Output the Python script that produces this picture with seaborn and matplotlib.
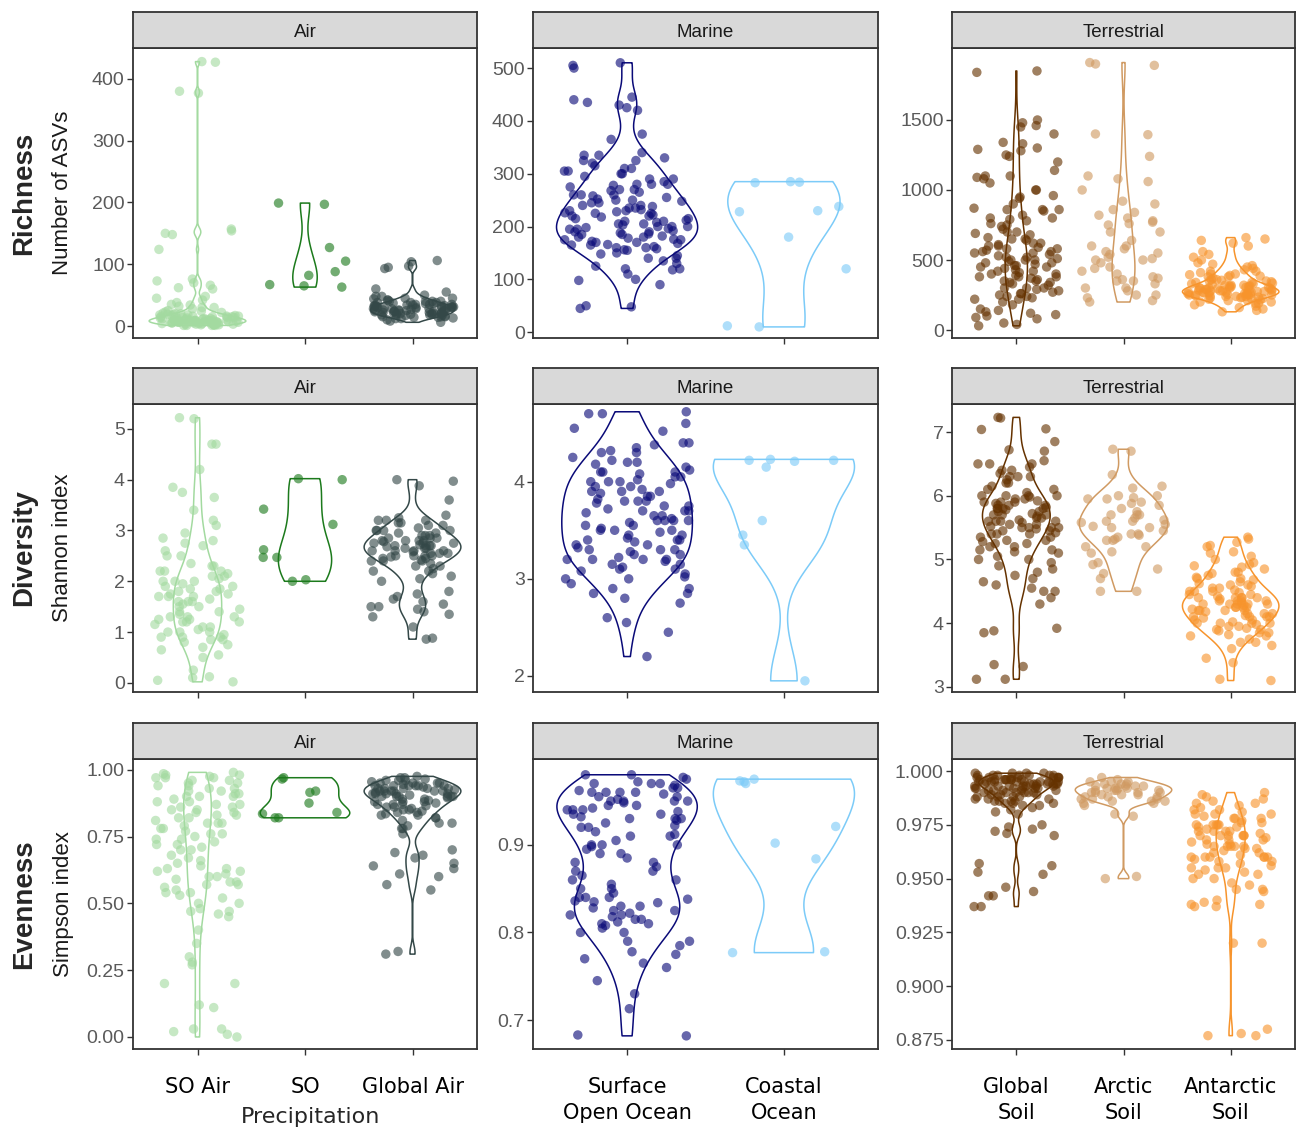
import numpy as np
import pandas as pd
import seaborn as sns
import matplotlib.pyplot as plt

# ---- data ----
# Richness (number of ASVs)
rich_so_air = [428, 427, 380, 377, 157, 154, 150, 148, 124, 76, 73, 70, 66, 62, 60, 48, 45, 42, 38,
               34, 32, 30, 28, 25, 24, 22, 20, 19, 18, 17, 16, 15, 15, 14, 13, 12, 12, 11, 10, 10, 9,
               9, 8, 8, 8, 7, 7, 6, 6, 5, 5, 5, 4, 4, 3, 3, 3, 2, 2, 2, 1, 1, 1, 12, 14, 16, 18, 20, 6, 9,
               3, 5, 7, 9, 11, 13, 15, 17, 19, 21, 23, 4, 6, 8, 10, 2, 1, 12, 14, 16, 6, 8, 10, 5, 7,
               3, 9, 11, 30, 35]
rich_so = [199, 197, 127, 105, 88, 82, 67, 65, 63]
rich_global_air = [106, 104, 97, 95, 93, 60, 55, 50, 48, 45, 44, 42, 40, 40, 38, 37, 36, 35, 34, 33,
                   32, 32, 31, 30, 30, 29, 28, 28, 27, 26, 25, 25, 24, 23, 22, 22, 21, 20, 20, 19, 18,
                   18, 17, 16, 15, 15, 14, 13, 12, 10, 8, 6, 30, 35, 27, 24, 20, 33, 38, 42,
                   15, 18, 20, 22, 25, 28, 30, 32, 35, 38, 40, 45, 20, 25, 30, 18, 22, 28, 33, 36,
                   12, 14, 26, 31, 34, 40, 48, 19, 23, 27]
rich_open_ocean = [510, 505, 500, 445, 440, 435, 430, 425, 420, 375, 365, 340, 335, 335, 330, 325,
                   320, 315, 310, 305, 305, 300, 295, 290, 285, 280, 280, 278, 275, 270, 268, 265,
                   260, 258, 255, 252, 250, 248, 245, 240, 238, 235, 232, 230, 228, 226, 225, 222,
                   220, 218, 215, 212, 210, 208, 205, 203, 200, 198, 196, 195, 192, 190, 188, 186,
                   185, 182, 180, 178, 176, 175, 172, 170, 168, 166, 165, 162, 160, 158, 156, 155,
                   150, 148, 145, 140, 135, 130, 125, 120, 118, 110, 100, 98, 90, 50, 48, 45,
                   260, 240, 230, 220, 210, 200, 190, 180, 170, 160, 250, 270, 290, 300, 310, 225,
                   215, 205, 195, 185, 175, 165, 245, 235, 325, 280, 120, 140, 260, 200]
rich_coastal = [285, 284, 283, 238, 230, 228, 180, 120, 12, 10]
rich_global_soil = [1850, 1840, 1500, 1480, 1460, 1450, 1400, 1340, 1330, 1290, 1280, 1240, 1200,
                    1140, 1100, 1090, 1080, 1050, 1000, 950, 940, 900, 870, 860, 860, 850, 820, 800,
                    800, 790, 780, 760, 740, 720, 700, 690, 680, 660, 650, 640, 620, 610, 600, 590,
                    580, 570, 560, 550, 540, 530, 520, 510, 500, 500, 490, 480, 470, 460, 450, 440,
                    430, 420, 410, 400, 390, 380, 370, 360, 350, 340, 330, 320, 300, 290, 280, 270,
                    260, 250, 240, 230, 220, 200, 180, 150, 140, 130, 120, 110, 100, 90, 80, 50, 40, 30,
                    600, 550, 500, 450, 400, 350, 300, 650, 700, 750, 580, 520, 480, 420, 380, 340,
                    260, 220, 860, 960, 1000, 1100, 1250, 1300, 560, 620, 460, 380, 300, 240]
rich_arctic_soil = [1910, 1900, 1890, 1400, 1395, 1240, 1100, 1080, 1060, 920, 900, 860, 840, 820,
                    780, 770, 760, 750, 700, 640, 600, 580, 560, 540, 520, 510, 500, 480, 440, 420,
                    400, 380, 370, 360, 350, 330, 300, 280, 250, 230, 210, 200,
                    600, 700, 800, 450, 500, 550, 350, 300, 250, 1000]
rich_antarctic_soil = [660, 650, 640, 620, 600, 560, 540, 520, 500, 480, 470, 460, 450, 440, 430,
                       420, 410, 400, 395, 390, 385, 380, 370, 360, 355, 350, 345, 340, 335, 330,
                       325, 320, 315, 310, 305, 300, 300, 295, 290, 290, 285, 280, 280, 275, 270,
                       270, 265, 260, 260, 255, 250, 250, 245, 240, 240, 235, 230, 225, 220, 215,
                       210, 200, 190, 180, 170, 160, 150, 140, 130, 300, 280, 260, 320, 250, 270,
                       300, 280, 260, 240, 320, 340, 360, 290, 270, 250, 230, 210, 310, 330, 350,
                       380, 400, 420, 200, 190, 275, 285, 295, 305, 315, 265, 255, 245, 235, 225]

# Diversity (Shannon index)
shan_so_air = [5.22, 5.2, 4.7, 4.7, 4.2, 3.85, 3.75, 3.65, 3.4, 3.1, 3.2, 2.95, 2.85, 2.8, 2.75, 2.7,
               2.6, 2.5, 2.35, 2.3, 2.2, 2.2, 2.15, 2.1, 2.05, 2.0, 2.0, 1.95, 1.9, 1.85, 1.85, 1.8,
               1.75, 1.7, 1.7, 1.65, 1.6, 1.55, 1.5, 1.45, 1.4, 1.35, 1.3, 1.3, 1.25, 1.2, 1.2, 1.15,
               1.1, 1.05, 1.0, 1.0, 0.95, 0.9, 0.9, 0.85, 0.8, 0.75, 0.7, 0.65, 0.55, 0.5, 0.25, 0.12,
               0.1, 0.05, 0.02, 1.5, 1.6, 1.7, 1.8, 1.9, 2.0, 2.1, 1.2, 1.3, 1.4, 1.0, 1.1, 0.9, 2.2,
               2.3, 2.5, 1.6, 1.75, 1.25, 0.85]
shan_so = [4.02, 4.0, 3.42, 3.12, 2.62, 2.47, 2.47, 2.03, 2.0]
shan_global_air = [4.0, 3.97, 3.88, 3.6, 3.3, 3.25, 3.2, 3.2, 3.15, 3.1, 3.05, 3.0, 3.0, 2.95, 2.9,
                   2.9, 2.85, 2.85, 2.8, 2.8, 2.78, 2.75, 2.75, 2.72, 2.7, 2.7, 2.68, 2.65, 2.65, 2.6,
                   2.6, 2.58, 2.55, 2.55, 2.5, 2.5, 2.48, 2.45, 2.42, 2.4, 2.4, 2.35, 2.3, 2.25, 2.2,
                   2.15, 2.1, 2.05, 2.0, 1.8, 1.75, 1.65, 1.6, 1.55, 1.5, 1.45, 1.4, 1.35, 1.3, 1.1,
                   0.88, 0.86, 2.6, 2.7, 2.8, 2.9, 3.0, 3.1, 2.5, 2.4, 2.3, 2.2, 2.65, 2.75, 2.85,
                   2.95, 2.55, 2.45, 3.15, 3.2, 1.5, 1.7, 2.7, 2.8, 2.6, 3.0, 2.5]
shan_open_ocean = [4.72, 4.7, 4.7, 4.6, 4.55, 4.52, 4.4, 4.38, 4.35, 4.32, 4.3, 4.25, 4.22, 4.2, 4.18,
                   4.15, 4.12, 4.1, 4.08, 4.05, 4.02, 4.0, 3.98, 3.95, 3.92, 3.9, 3.88, 3.85, 3.82,
                   3.8, 3.78, 3.75, 3.72, 3.7, 3.68, 3.65, 3.62, 3.6, 3.58, 3.55, 3.52, 3.5, 3.48,
                   3.45, 3.42, 3.4, 3.38, 3.35, 3.32, 3.3, 3.28, 3.25, 3.22, 3.2, 3.18, 3.15, 3.12,
                   3.1, 3.08, 3.05, 3.02, 3.0, 2.95, 2.9, 2.85, 2.8, 2.75, 2.6, 2.55, 2.45, 2.2, 4.1,
                   3.9, 3.7, 3.5, 3.3, 3.2, 3.6, 4.0, 3.4, 3.5, 3.6, 3.7, 3.8, 3.9, 4.0, 4.1, 4.2,
                   3.4, 3.3, 3.2, 3.1, 3.0, 3.55, 3.65, 3.75, 3.85, 3.95, 4.05, 3.25, 3.15, 3.35,
                   3.45, 2.85, 4.3, 4.4, 2.9, 3.6, 3.8, 3.2]
shan_coastal = [4.23, 4.22, 4.22, 4.21, 4.15, 3.6, 3.45, 3.35, 1.95]
shan_global_soil = [7.23, 7.22, 7.05, 7.04, 6.85, 6.72, 6.7, 6.55, 6.5, 6.5, 6.45, 6.4, 6.35, 6.3,
                    6.3, 6.25, 6.2, 6.15, 6.1, 6.05, 6.0, 6.0, 5.98, 5.95, 5.92, 5.9, 5.88, 5.85,
                    5.85, 5.82, 5.8, 5.8, 5.78, 5.75, 5.72, 5.7, 5.68, 5.65, 5.62, 5.6, 5.6, 5.58,
                    5.55, 5.52, 5.5, 5.5, 5.48, 5.45, 5.42, 5.4, 5.4, 5.35, 5.3, 5.28, 5.25, 5.2, 5.2,
                    5.15, 5.12, 5.1, 5.05, 5.0, 4.95, 4.9, 4.85, 4.75, 4.7, 4.65, 4.6, 4.55, 4.5,
                    4.5, 4.4, 4.3, 3.92, 3.88, 3.85, 3.35, 3.32, 3.12, 3.12, 5.9, 5.8, 5.7, 5.6,
                    5.5, 5.4, 5.3, 6.0, 6.1, 6.2, 6.3, 5.85, 5.75, 5.65, 5.55, 5.45, 5.35, 5.25, 5.15,
                    6.4, 6.5, 5.0, 4.8, 5.95, 5.9, 5.8, 5.6, 5.5, 6.0, 5.7]
shan_arctic_soil = [6.73, 6.7, 6.33, 6.15, 6.12, 6.0, 5.97, 5.95, 5.95, 5.88, 5.85, 5.75, 5.7, 5.7,
                    5.65, 5.62, 5.6, 5.58, 5.55, 5.52, 5.5, 5.45, 5.4, 5.38, 5.35, 5.32, 5.3, 5.2,
                    5.12, 5.1, 4.95, 4.92, 4.85, 4.78, 4.5, 4.5, 5.6, 5.5, 5.7, 5.4, 5.8, 5.3, 6.0,
                    5.9, 5.2, 4.7]
shan_antarctic_soil = [5.35, 5.32, 5.27, 5.22, 5.2, 5.12, 5.1, 5.05, 4.95, 4.92, 4.88, 4.85, 4.8,
                       4.78, 4.75, 4.72, 4.7, 4.68, 4.65, 4.62, 4.6, 4.58, 4.55, 4.52, 4.5, 4.48,
                       4.45, 4.42, 4.4, 4.4, 4.38, 4.35, 4.32, 4.3, 4.3, 4.28, 4.25, 4.22, 4.2, 4.2,
                       4.18, 4.15, 4.12, 4.1, 4.1, 4.08, 4.05, 4.02, 4.0, 4.0, 3.98, 3.95, 3.92, 3.9,
                       3.88, 3.85, 3.82, 3.8, 3.75, 3.7, 3.65, 3.6, 3.45, 3.38, 3.12, 3.1, 4.3, 4.35,
                       4.25, 4.4, 4.15, 4.3, 4.2, 4.1, 4.0, 4.4, 4.5, 4.6, 4.35, 4.25, 4.15, 4.05,
                       3.95, 4.45, 4.55, 3.9, 3.85, 4.7, 4.8, 4.3, 4.2, 4.1, 4.0, 4.5, 3.8, 4.4, 4.9,
                       5.0, 3.7, 4.25, 4.35]

# Evenness (Simpson index)
simp_so_air = [0.99, 0.985, 0.98, 0.975, 0.97, 0.97, 0.96, 0.95, 0.94, 0.93, 0.92, 0.91, 0.9, 0.9,
               0.89, 0.88, 0.87, 0.86, 0.85, 0.85, 0.84, 0.83, 0.82, 0.81, 0.8, 0.8, 0.79, 0.78,
               0.77, 0.76, 0.75, 0.74, 0.73, 0.72, 0.71, 0.7, 0.68, 0.67, 0.65, 0.64, 0.63, 0.62,
               0.61, 0.6, 0.59, 0.58, 0.57, 0.56, 0.55, 0.54, 0.53, 0.52, 0.5, 0.48, 0.47, 0.46,
               0.45, 0.4, 0.35, 0.3, 0.28, 0.27, 0.2, 0.2, 0.12, 0.11, 0.03, 0.03, 0.02, 0.01, 0.0,
               0.98, 0.96, 0.94, 0.92, 0.9, 0.88, 0.86, 0.84, 0.82, 0.8, 0.78, 0.76, 0.74, 0.72,
               0.7, 0.66, 0.62, 0.58, 0.54, 0.5, 0.95, 0.93, 0.87, 0.83, 0.63, 0.6, 0.57, 0.47,
               0.97, 0.91]
simp_so = [0.97, 0.965, 0.92, 0.915, 0.875, 0.84, 0.835, 0.82, 0.82]
simp_global_air = [0.975, 0.97, 0.965, 0.96, 0.955, 0.95, 0.95, 0.945, 0.94, 0.94, 0.935, 0.93,
                   0.93, 0.925, 0.92, 0.92, 0.915, 0.91, 0.91, 0.905, 0.9, 0.9, 0.895, 0.89, 0.885,
                   0.88, 0.875, 0.87, 0.865, 0.86, 0.855, 0.85, 0.845, 0.84, 0.835, 0.83, 0.82,
                   0.81, 0.8, 0.79, 0.78, 0.76, 0.7, 0.69, 0.68, 0.67, 0.65, 0.64, 0.63, 0.61, 0.6,
                   0.57, 0.55, 0.32, 0.31, 0.93, 0.92, 0.91, 0.94, 0.9, 0.95, 0.94, 0.93, 0.92,
                   0.91, 0.9, 0.96, 0.97, 0.89, 0.88, 0.87, 0.86, 0.85, 0.84, 0.83, 0.92, 0.93,
                   0.94, 0.91, 0.9, 0.95, 0.96, 0.82, 0.8, 0.78, 0.87, 0.88, 0.9, 0.92, 0.94]
simp_open_ocean = [0.98, 0.98, 0.977, 0.975, 0.972, 0.97, 0.968, 0.965, 0.962, 0.96, 0.958, 0.955,
                   0.952, 0.95, 0.948, 0.945, 0.942, 0.94, 0.938, 0.935, 0.932, 0.93, 0.928, 0.925,
                   0.922, 0.92, 0.915, 0.912, 0.91, 0.905, 0.9, 0.898, 0.895, 0.89, 0.885, 0.88,
                   0.875, 0.87, 0.865, 0.86, 0.855, 0.85, 0.845, 0.84, 0.84, 0.838, 0.836, 0.834,
                   0.83, 0.828, 0.825, 0.822, 0.82, 0.818, 0.815, 0.812, 0.81, 0.808, 0.805, 0.8,
                   0.79, 0.785, 0.778, 0.775, 0.77, 0.765, 0.76, 0.745, 0.73, 0.713, 0.683, 0.682,
                   0.95, 0.96, 0.94, 0.93, 0.96, 0.95, 0.94, 0.93, 0.92, 0.91, 0.97, 0.83, 0.84,
                   0.82, 0.81, 0.85, 0.86, 0.87, 0.88, 0.89, 0.9, 0.955, 0.945, 0.935, 0.965, 0.835,
                   0.825, 0.815, 0.95, 0.96, 0.97, 0.79, 0.8, 0.9]
simp_coastal = [0.975, 0.973, 0.972, 0.97, 0.921, 0.902, 0.884, 0.778, 0.777]
simp_global_soil = [0.999, 0.999, 0.998, 0.998, 0.998, 0.997, 0.997, 0.997, 0.997, 0.996, 0.996,
                    0.996, 0.996, 0.995, 0.995, 0.995, 0.995, 0.995, 0.994, 0.994, 0.994, 0.994,
                    0.993, 0.993, 0.993, 0.993, 0.992, 0.992, 0.992, 0.991, 0.991, 0.991, 0.99,
                    0.99, 0.99, 0.989, 0.989, 0.988, 0.988, 0.987, 0.987, 0.986, 0.986, 0.985,
                    0.985, 0.984, 0.983, 0.982, 0.981, 0.98, 0.975, 0.974, 0.973, 0.972, 0.971,
                    0.97, 0.957, 0.956, 0.953, 0.952, 0.946, 0.944, 0.942, 0.942, 0.937, 0.937,
                    0.996, 0.997, 0.998, 0.995, 0.994, 0.993, 0.999, 0.998, 0.997, 0.996, 0.995,
                    0.994, 0.993, 0.992, 0.991, 0.99, 0.999, 0.998, 0.997, 0.996, 0.995, 0.994,
                    0.993, 0.992, 0.991, 0.99, 0.989, 0.988, 0.987, 0.986, 0.985, 0.997, 0.996,
                    0.995, 0.994, 0.998, 0.984, 0.986, 0.988, 0.99, 0.992]
simp_arctic_soil = [0.997, 0.996, 0.995, 0.995, 0.994, 0.994, 0.993, 0.993, 0.993, 0.992, 0.992,
                    0.992, 0.991, 0.991, 0.991, 0.99, 0.99, 0.99, 0.989, 0.989, 0.988, 0.988, 0.987,
                    0.987, 0.986, 0.986, 0.985, 0.985, 0.984, 0.98, 0.979, 0.951, 0.95, 0.993,
                    0.992, 0.991, 0.99, 0.989, 0.988, 0.994, 0.995, 0.987, 0.986]
simp_antarctic_soil = [0.99, 0.989, 0.988, 0.987, 0.986, 0.985, 0.984, 0.983, 0.982, 0.981, 0.98,
                       0.979, 0.978, 0.977, 0.976, 0.975, 0.975, 0.974, 0.973, 0.972, 0.972, 0.971,
                       0.97, 0.97, 0.969, 0.968, 0.967, 0.966, 0.965, 0.965, 0.964, 0.963, 0.962,
                       0.961, 0.96, 0.96, 0.959, 0.958, 0.957, 0.956, 0.955, 0.954, 0.953, 0.952,
                       0.95, 0.948, 0.947, 0.945, 0.944, 0.939, 0.938, 0.937, 0.937, 0.92, 0.92,
                       0.88, 0.878, 0.877, 0.877, 0.972, 0.968, 0.975, 0.965, 0.97, 0.96, 0.978,
                       0.975, 0.97, 0.965, 0.96, 0.955, 0.98, 0.985, 0.972, 0.968, 0.962, 0.958,
                       0.952, 0.976, 0.974, 0.966, 0.964, 0.978, 0.982, 0.95, 0.945, 0.97, 0.96,
                       0.975, 0.965, 0.955, 0.98, 0.97, 0.96, 0.94, 0.938]

habitats = ["Air", "Marine", "Terrestrial"]
groups = [["SO Air", "SO", "Global Air"],
          ["Surface Open Ocean", "Coastal Ocean"],
          ["Global Soil", "Arctic Soil", "Antarctic Soil"]]
group_labels = [["SO Air", "SO", "Global Air"],
                ["Surface\nOpen Ocean", "Coastal\nOcean"],
                ["Global\nSoil", "Arctic\nSoil", "Antarctic\nSoil"]]
metrics = ["Richness", "Diversity", "Evenness"]
metric_units = ["Number of ASVs", "Shannon index", "Simpson index"]

values = {
    "Richness": [rich_so_air, rich_so, rich_global_air, rich_open_ocean, rich_coastal,
                 rich_global_soil, rich_arctic_soil, rich_antarctic_soil],
    "Diversity": [shan_so_air, shan_so, shan_global_air, shan_open_ocean, shan_coastal,
                  shan_global_soil, shan_arctic_soil, shan_antarctic_soil],
    "Evenness": [simp_so_air, simp_so, simp_global_air, simp_open_ocean, simp_coastal,
                 simp_global_soil, simp_arctic_soil, simp_antarctic_soil],
}

palette = {"SO Air": "#a3daa0", "SO": "#1c7a1c", "Global Air": "#344848",
           "Surface Open Ocean": "#0a0a78", "Coastal Ocean": "#7ccbf8",
           "Global Soil": "#653200", "Arctic Soil": "#d09a62", "Antarctic Soil": "#f7942c"}

# y axis limits / ticks for each panel (row, col)
ylims = [[(-19.4, 450), (-11, 538), (-57, 2014)],
         [(-0.18, 5.49), (1.835, 4.80), (2.92, 7.44)],
         [(-0.045, 1.04), (0.667, 0.998), (0.8708, 1.0056)]]
yticks = [[[0, 100, 200, 300, 400], [0, 100, 200, 300, 400, 500], [0, 500, 1000, 1500]],
          [[0, 1, 2, 3, 4, 5], [2, 3, 4], [3, 4, 5, 6, 7]],
          [[0, 0.25, 0.5, 0.75, 1.0], [0.7, 0.8, 0.9], [0.875, 0.9, 0.925, 0.95, 0.975, 1.0]]]
yfmt = [["{:.0f}"] * 3, ["{:.0f}"] * 3, ["{:.2f}", "{:.1f}", "{:.3f}"]]

rows = []
flat_groups = [g for gs in groups for g in gs]
for m in metrics:
    for g, vals in zip(flat_groups, values[m]):
        for v in vals:
            rows.append((m, g, v))
df = pd.DataFrame(rows, columns=["metric", "group", "value"])


def nrd0(kde):
    # R's default bandwidth rule, as used by ggplot's violins
    x = kde.dataset[0]
    sd = x.std(ddof=1)
    iqr = np.subtract(*np.percentile(x, [75, 25]))
    lo = min(sd, iqr / 1.34) if iqr > 0 else sd
    return 0.9 * lo * len(x) ** -0.2 / sd


sns.set_style("white")
plt.rcParams['font.family'] = ['Liberation Sans', 'DejaVu Sans']
np.random.seed(3)

W, H = 1296, 1129
fig = plt.figure(figsize=(W / 100, H / 100), dpi=100)


def box(l, t, r, b):
    return [l / W, 1 - b / H, (r - l) / W, (b - t) / H]


col_px = [(133, 477), (533, 878), (952, 1295)]
row_px = [(48, 338), (404, 692), (759, 1049)]
edge = "#333333"

for i, m in enumerate(metrics):
    t, b = row_px[i]
    for j, hab in enumerate(habitats):
        l, r = col_px[j]
        ax = fig.add_axes(box(l, t, r, b))
        sub = df[(df.metric == m) & (df.group.isin(groups[j]))]
        sns.stripplot(data=sub, x="group", y="value", hue="group", order=groups[j],
                      hue_order=groups[j], palette=palette, jitter=0.4, size=6.8,
                      alpha=0.62, linewidth=0, legend=False, ax=ax, zorder=1)
        sns.violinplot(data=sub, x="group", y="value", hue="group", order=groups[j],
                       hue_order=groups[j], palette=palette, fill=False, inner=None,
                       cut=0, width=0.9, density_norm="area", common_norm=True,
                       bw_method=nrd0, gridsize=400, linewidth=1.1, dodge=False,
                       legend=False, ax=ax)
        ax.set_xlim(-0.6, len(groups[j]) - 0.4)
        ax.set_ylim(*ylims[i][j])
        ax.set_yticks(yticks[i][j])
        ax.set_yticklabels([yfmt[i][j].format(v) for v in yticks[i][j]])
        ax.set_xticks(range(len(groups[j])))
        if i == 2:
            ax.set_xticklabels(group_labels[j], fontsize=15, color="black",
                               family=["DejaVu Sans"], linespacing=1.4)
        else:
            ax.set_xticklabels([])
        ax.set_xlabel("")
        ax.set_ylabel("")
        ax.tick_params(axis="both", direction="out", length=4, width=1, color=edge,
                       bottom=True, left=True)
        ax.tick_params(axis="y", labelsize=14, labelcolor="#5a5a5a", pad=2)
        ax.tick_params(axis="x", pad=16)
        for s in ax.spines.values():
            s.set_color(edge)
            s.set_linewidth(1.3)

        # facet strip
        sax = fig.add_axes(box(l, t - 36, r, t))
        sax.set_facecolor("#d9d9d9")
        sax.set_xticks([])
        sax.set_yticks([])
        for s in sax.spines.values():
            s.set_color(edge)
            s.set_linewidth(1.3)
        sax.text(0.5, 0.44, hab, ha="center", va="center", fontsize=13.5,
                 color="#1a1a1a", transform=sax.transAxes)

    yc = 1 - (t + b) / 2 / H
    fig.text(24 / W, yc, m, rotation=90, ha="center", va="center",
             fontsize=20, fontweight="bold")
    fig.text(63 / W, yc, metric_units[i], rotation=90, ha="center", va="center",
             fontsize=16, color="#1a1a1a")

fig.text(311 / W, 1 - 1117 / H, "Precipitation", ha="center", va="center",
         fontsize=16, family=["DejaVu Sans"])

fig.savefig("out.png", dpi=100)
